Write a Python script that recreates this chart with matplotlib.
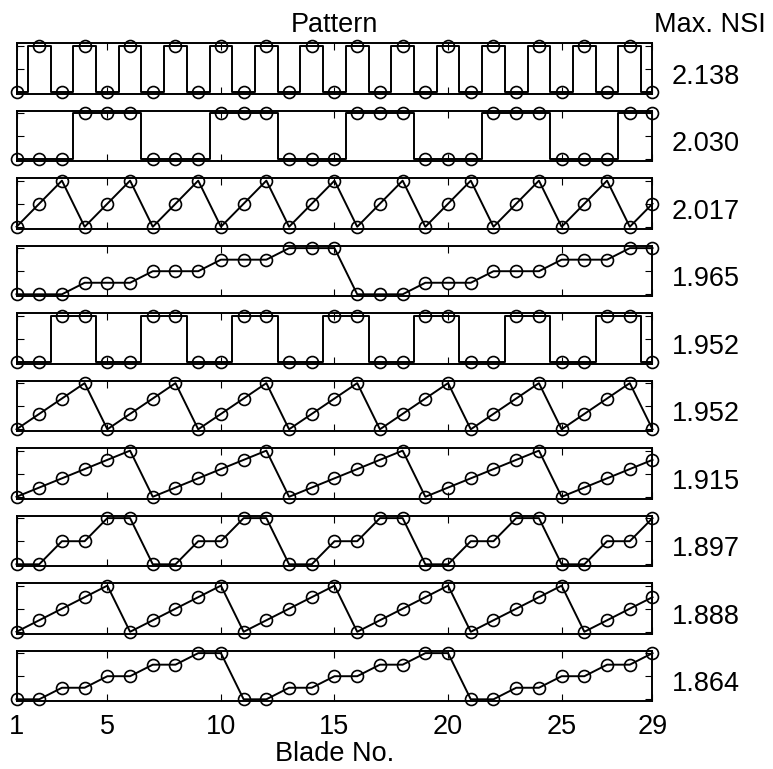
import matplotlib
matplotlib.use("Agg")
import matplotlib.pyplot as plt
import numpy as np

plt.rcParams['font.family'] = ['Liberation Sans', 'DejaVu Sans']

blades = [1, 2, 3, 4, 5, 6, 7, 8, 9, 10, 11, 12, 13, 14, 15, 16, 17, 18, 19, 20,
          21, 22, 23, 24, 25, 26, 27, 28, 29]

p1 = [0, 1, 0, 1, 0, 1, 0, 1, 0, 1, 0, 1, 0, 1, 0, 1, 0, 1, 0, 1, 0, 1, 0, 1, 0, 1, 0, 1, 0]
p2 = [0, 0, 0, 1, 1, 1, 0, 0, 0, 1, 1, 1, 0, 0, 0, 1, 1, 1, 0, 0, 0, 1, 1, 1, 0, 0, 0, 1, 1]
p3 = [0, 1, 2, 0, 1, 2, 0, 1, 2, 0, 1, 2, 0, 1, 2, 0, 1, 2, 0, 1, 2, 0, 1, 2, 0, 1, 2, 0, 1]
p4 = [0, 0, 0, 1, 1, 1, 2, 2, 2, 3, 3, 3, 4, 4, 4, 0, 0, 0, 1, 1, 1, 2, 2, 2, 3, 3, 3, 4, 4]
p5 = [0, 0, 1, 1, 0, 0, 1, 1, 0, 0, 1, 1, 0, 0, 1, 1, 0, 0, 1, 1, 0, 0, 1, 1, 0, 0, 1, 1, 0]
p6 = [0, 1, 2, 3, 0, 1, 2, 3, 0, 1, 2, 3, 0, 1, 2, 3, 0, 1, 2, 3, 0, 1, 2, 3, 0, 1, 2, 3, 0]
p7 = [0, 1, 2, 3, 4, 5, 0, 1, 2, 3, 4, 5, 0, 1, 2, 3, 4, 5, 0, 1, 2, 3, 4, 5, 0, 1, 2, 3, 4]
p8 = [0, 0, 1, 1, 2, 2, 0, 0, 1, 1, 2, 2, 0, 0, 1, 1, 2, 2, 0, 0, 1, 1, 2, 2, 0, 0, 1, 1, 2]
p9 = [0, 1, 2, 3, 4, 0, 1, 2, 3, 4, 0, 1, 2, 3, 4, 0, 1, 2, 3, 4, 0, 1, 2, 3, 4, 0, 1, 2, 3]
p10 = [0, 0, 1, 1, 2, 2, 3, 3, 4, 4, 0, 0, 1, 1, 2, 2, 3, 3, 4, 4, 0, 0, 1, 1, 2, 2, 3, 3, 4]

patterns = [p1, p2, p3, p4, p5, p6, p7, p8, p9, p10]
max_nsi = ["2.138", "2.030", "2.017", "1.965", "1.952", "1.952", "1.915", "1.897", "1.888", "1.864"]
x_ticks = [1, 5, 10, 15, 20, 25, 29]
stepped = {0, 1, 4}

W, H = 773, 769
fig = plt.figure(figsize=(W / 100, H / 100), dpi=100)

left_px, right_px = 16.5, 652.5
top0_px, spacing_px, height_px = 43.0, 67.5, 50.5

FS = 19.5
for i, pat in enumerate(patterns):
    top = top0_px + i * spacing_px
    ax = fig.add_axes([left_px / W, 1 - (top + height_px) / H,
                       (right_px - left_px) / W, height_px / H])
    y = np.array(pat, dtype=float)
    y = y / y.max()
    if i in stepped:
        ax.step(blades, y, where='mid', color='black', lw=1.4, clip_on=False)
    else:
        ax.plot(blades, y, color='black', lw=1.4, clip_on=False)
    ax.plot(blades, y, linestyle='none', marker='o', ms=8.6, mfc='none',
            mec='black', mew=1.2, clip_on=False, zorder=5)
    ax.set_xlim(1, 29)
    ax.set_ylim(-0.037, 1.057)
    ax.set_xticks(x_ticks)
    ax.set_yticks([0, 0.5, 1])
    ax.tick_params(direction='in', length=5, width=0.8, top=True, right=True,
                   labelleft=False, labelsize=FS, pad=9)
    if i < len(patterns) - 1:
        ax.tick_params(labelbottom=False)
    else:
        ax.set_xticklabels([str(t) for t in x_ticks])
        ax.set_xlabel("Blade No.", fontsize=FS, labelpad=1)
    for s in ax.spines.values():
        s.set_linewidth(1.4)
    ax.text((706 - left_px) / (right_px - left_px), 0.19, max_nsi[i],
            transform=ax.transAxes, ha='center', va='baseline', fontsize=FS)

fig.text(334.5 / W, 1 - 32 / H, "Pattern", ha='center', va='baseline', fontsize=FS)
fig.text(710 / W, 1 - 32 / H, "Max. NSI", ha='center', va='baseline', fontsize=FS)

fig.savefig("out.png", dpi=100)
